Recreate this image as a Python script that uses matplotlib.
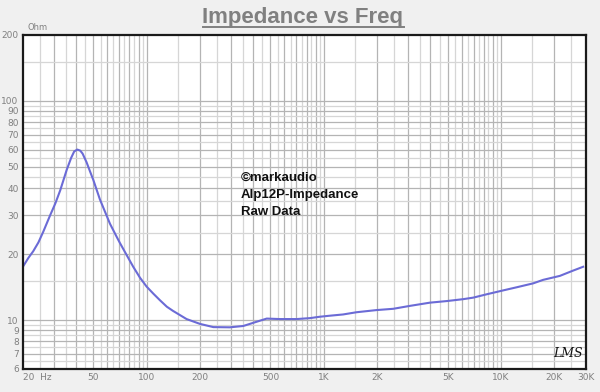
import numpy as np
import matplotlib
matplotlib.use("Agg")
import matplotlib.pyplot as plt
from matplotlib.lines import Line2D

# ---- data ----
freq_hz = [20.2, 21.5, 22.9, 24.5, 26.1, 28.5, 30.5, 32.5, 35.4, 37.5, 39.0, 40.6, 42.2,
           43.5, 45.8, 48.0, 50, 54.5, 59.4, 62.1, 67.7, 70.6, 77.1, 84, 91.7, 100, 109,
           119, 130, 141, 168, 200, 238, 295, 351, 418, 476, 565, 703, 836, 951, 1079,
           1285, 1530, 1986, 2466, 3062, 3972, 4933, 6124, 6970, 8295, 10290, 12240,
           15200, 17300, 21500, 25500, 29100]
impedance_ohm = [17.7, 19.2, 20.6, 22.6, 25.3, 30.0, 34.0, 39.0, 48.5, 55.0, 58.8, 60.0, 59.3,
                 57.5, 52.5, 47.5, 43.6, 35.5, 30.0, 27.5, 24.0, 22.5, 19.8, 17.5, 15.6, 14.2, 13.2,
                 12.3, 11.5, 11.0, 10.1, 9.6, 9.28, 9.26, 9.39, 9.82, 10.15, 10.1, 10.1, 10.2,
                 10.35, 10.46, 10.6, 10.85, 11.1, 11.25, 11.6, 12.0, 12.2, 12.45, 12.65, 13.1,
                 13.65, 14.1, 14.7, 15.25, 15.9, 16.8, 17.5]

x_ticks = [20, 50, 100, 200, 500, 1000, 2000, 5000, 10000, 20000, 30000]
x_tick_labels = ["20  Hz", "50", "100", "200", "500", "1K", "2K", "5K", "10K", "20K", "30K"]
y_ticks = [6, 7, 8, 9, 10, 20, 30, 40, 50, 60, 70, 80, 90, 100, 200]
y_tick_labels = ["6", "7", "8", "9", "10", "20", "30", "40", "50", "60", "70", "80", "90", "100", "200"]

title_text = "Impedance vs Freq"
note_lines = ["©markaudio", "Alp12P-Impedance", "Raw Data"]

# ---- figure ----
fig = plt.figure(figsize=(6.0, 3.92), dpi=100, facecolor="#f0f0f0")
ax = fig.add_axes([22.8 / 600, 1 - 368.6 / 392, (585.5 - 22.8) / 600, (368.6 - 35) / 392])
ax.set_facecolor("white")
ax.set_xscale("log")
ax.set_yscale("log")
ax.set_xlim(20, 30000)
ax.set_ylim(6, 200)

# grid lines (integer multiples darker, half steps lighter)
for d in [10, 100, 1000, 10000]:
    for k in np.arange(1.0, 10.0, 0.5):
        f = k * d
        if 20 < f < 30000:
            c = "#b4b4b4" if k == int(k) else "#d6d6d6"
            ax.axvline(f, color=c, lw=0.9, zorder=1)
for d in [1, 10, 100]:
    for k in np.arange(1.0, 10.0, 0.5):
        z = k * d
        if 6 < z < 200:
            c = "#b4b4b4" if k == int(k) else "#d6d6d6"
            ax.axhline(z, color=c, lw=0.9, zorder=1)

ax.plot(freq_hz, impedance_ohm, color="#6b6bd6", lw=1.5, zorder=3)

ax.set_xticks(x_ticks)
ax.set_xticklabels(x_tick_labels)
ax.set_yticks(y_ticks)
ax.set_yticklabels(y_tick_labels)
ax.minorticks_off()
ax.tick_params(axis="both", length=0, labelsize=6.5, labelcolor="#808080", pad=3)
ax.get_xticklabels()[0].set_horizontalalignment("left")

for s in ax.spines.values():
    s.set_color("#1a1a1a")
    s.set_linewidth(1.6)
    s.set_zorder(5)

# notes
for i, line in enumerate(note_lines):
    ax.text(0.387, 0.573 - i * 0.052, line, transform=ax.transAxes, fontsize=9.5,
            fontweight="bold", color="#111111", family=["Liberation Sans", "DejaVu Sans"],
            va="center", ha="left", zorder=6)

ax.text(0.942, 0.045, "LMS", transform=ax.transAxes, fontsize=9, fontstyle="italic",
        family=["DejaVu Serif"], color="#111111", ha="left", va="center", zorder=6)

fig.text(27 / 600, 1 - 27 / 392, "Ohm", fontsize=6, color="#808080", ha="left", va="center")

t = fig.text(0.505, 1 - 17 / 392, title_text, fontsize=16, fontweight="bold", color="#808080",
             family=["Liberation Sans Narrow", "Liberation Sans", "DejaVu Sans"],
             ha="center", va="center")
fig.canvas.draw()
bb = t.get_window_extent(fig.canvas.get_renderer())
inv = fig.transFigure.inverted()
(x0, y0), (x1, y1) = inv.transform([(bb.x0, bb.y0), (bb.x1, bb.y0)])
fig.add_artist(Line2D([x0, x1], [y0 + 0.002, y0 + 0.002], transform=fig.transFigure,
                      color="#808080", lw=1.4))

fig.savefig("out.png", dpi=100, facecolor=fig.get_facecolor())
